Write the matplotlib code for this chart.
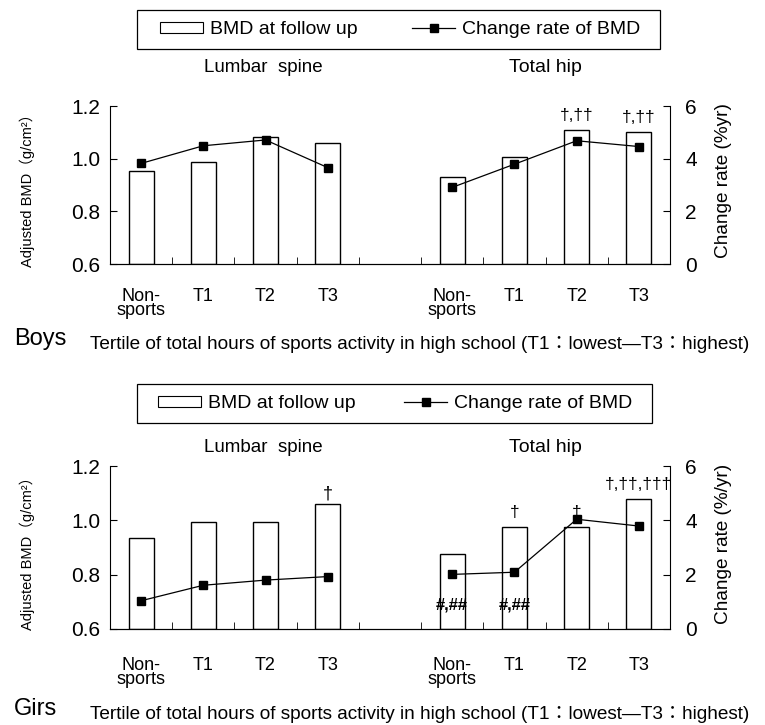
import matplotlib
matplotlib.use("Agg")
import matplotlib.pyplot as plt
from matplotlib.patches import Patch, Rectangle
from matplotlib.lines import Line2D

plt.rcParams['font.family'] = ['Liberation Sans', 'Noto Sans CJK JP', 'DejaVu Sans']

# -----------------------------
# DATA
# -----------------------------
groups = ["Non-\nsports", "T1", "T2", "T3"]

boys_spine_bmd = [0.955, 0.989, 1.084, 1.061]
boys_spine_rate = [3.82, 4.49, 4.71, 3.66]
boys_spine_marks = ["", "", "", ""]
boys_hip_bmd = [0.930, 1.006, 1.109, 1.102]
boys_hip_rate = [2.91, 3.79, 4.68, 4.46]
boys_hip_marks = ["", "", "†,††", "†,††"]
boys_hip_inner = ["", "", "", ""]

girls_spine_bmd = [0.936, 0.993, 0.993, 1.059]
girls_spine_rate = [1.04, 1.61, 1.80, 1.93]
girls_spine_marks = ["", "", "", "†"]
girls_hip_bmd = [0.875, 0.977, 0.974, 1.078]
girls_hip_rate = [2.01, 2.09, 4.04, 3.79]
girls_hip_marks = ["", "†", "†", "†,††,†††"]
girls_hip_inner = ["#,##", "#,##", "", ""]

W, H = 765, 725
xlabel_text = "Tertile of total hours of sports activity in high school (T1：lowest—T3：highest)"


def fx(x):
    return x / W


def fy(y):
    return 1 - y / H


def panel(top, bottom, spine_bmd, spine_rate, spine_marks,
          hip_bmd, hip_rate, hip_marks, hip_inner,
          rate_label, sex, legend_box, legend_inner, title_y, foot_y, xpad):
    ax = fig.add_axes([fx(110), fy(bottom), fx(670) - fx(110), (bottom - top) / H])
    xs_spine = [0, 1, 2, 3]
    xs_hip = [5, 6, 7, 8]
    ax.bar(xs_spine, [v - 0.6 for v in spine_bmd], bottom=0.6, width=0.4,
           facecolor='white', edgecolor='black', linewidth=1.0)
    ax.bar(xs_hip, [v - 0.6 for v in hip_bmd], bottom=0.6, width=0.4,
           facecolor='white', edgecolor='black', linewidth=1.0)
    ax.set_xlim(-0.5, 8.5)
    ax.set_ylim(0.6, 1.2)
    ax.set_yticks([0.6, 0.8, 1.0, 1.2])
    ax.set_yticklabels(["0.6", "0.8", "1.0", "1.2"])
    ax.set_xticks(xs_spine + xs_hip)
    ax.set_xticklabels(groups + groups, fontsize=13, linespacing=0.82, va='top')
    ax.set_xticks([0.5, 1.5, 2.5, 3.5, 4.5, 5.5, 6.5, 7.5], minor=True)
    ax.tick_params(axis='x', which='major', length=0, pad=xpad)
    ax.tick_params(axis='x', which='minor', direction='in', length=5)
    ax.tick_params(axis='y', direction='in', length=5, labelsize=15, pad=7)
    ax.spines['top'].set_visible(False)
    ax.spines['right'].set_visible(False)

    for x, v, m in zip(xs_spine, spine_bmd, spine_marks):
        if m:
            ax.annotate(m, (x, v), xytext=(0, 1), textcoords='offset points',
                        ha='center', va='bottom', fontsize=13)
    for x, v, m in zip(xs_hip, hip_bmd, hip_marks):
        if m:
            ax.annotate(m, (x, v), xytext=(0, 5), textcoords='offset points',
                        ha='center', va='bottom', fontsize=12.5)
    for x, m in zip(xs_hip, hip_inner):
        if m:
            ax.text(x, 0.69, m, ha='center', va='center', fontsize=12,
                    fontweight='bold')

    ax2 = ax.twinx()
    ax2.plot(xs_spine, spine_rate, color='black', lw=0.9, marker='s', markersize=6)
    ax2.plot(xs_hip, hip_rate, color='black', lw=0.9, marker='s', markersize=6)
    ax2.set_ylim(0, 6)
    ax2.set_yticks([0, 2, 4, 6])
    ax2.tick_params(axis='y', direction='in', length=5, labelsize=15, pad=11)
    ax2.spines['top'].set_visible(False)
    ax2.spines['left'].set_visible(False)

    # titles and axis labels
    fig.text(fx(263), fy(title_y), "Lumbar  spine", ha='center', va='center', fontsize=13.5)
    fig.text(fx(545), fy(title_y), "Total hip", ha='center', va='center', fontsize=14)
    mid = (top + bottom) / 2
    fig.text(fx(27), fy(mid + 2), "Adjusted BMD（g/cm²）", rotation=90,
             ha='center', va='center', fontsize=10.5)
    fig.text(fx(723), fy(mid - 4), rate_label, rotation=90,
             ha='center', va='center', fontsize=13.7)
    fig.text(fx(14), fy(foot_y), sex, ha='left', va='baseline', fontsize=17)
    fig.text(fx(90), fy(foot_y + 4), xlabel_text, ha='left', va='baseline', fontsize=13.7)

    # legend: frame box drawn separately, entries spread inside it
    bl, bt, br, bb = legend_box
    fig.add_artist(Rectangle((fx(bl), fy(bb)), fx(br) - fx(bl), (bb - bt) / H,
                             transform=fig.transFigure, fill=False,
                             edgecolor='black', linewidth=0.9))
    il, ir, cs = legend_inner
    handles = [Patch(facecolor='white', edgecolor='black', linewidth=0.8),
               Line2D([], [], color='black', lw=0.9, marker='s', markersize=6)]
    fig.legend(handles, ["BMD at follow up", "Change rate of BMD"],
               ncol=2, mode='expand', loc='center', frameon=False,
               bbox_to_anchor=(fx(il), fy(bb), fx(ir) - fx(il), (bb - bt) / H),
               fontsize=14, handlelength=2.2, handleheight=0.5,
               handletextpad=0.35, columnspacing=cs, borderpad=0, borderaxespad=0)
    return ax


fig = plt.figure(figsize=(W / 100, H / 100), dpi=100)

panel(106, 264, boys_spine_bmd, boys_spine_rate, boys_spine_marks,
      boys_hip_bmd, boys_hip_rate, boys_hip_marks, boys_hip_inner,
      "Change rate (%yr)", "Boys", (137, 10, 660, 49), (160, 640, 1.4), 68, 345, 17)

panel(466, 629, girls_spine_bmd, girls_spine_rate, girls_spine_marks,
      girls_hip_bmd, girls_hip_rate, girls_hip_marks, girls_hip_inner,
      "Change rate (%/yr)", "Girs", (137, 384, 652, 423), (158, 632, 1.0), 448, 715, 20)

plt.savefig("out.png", dpi=100)
